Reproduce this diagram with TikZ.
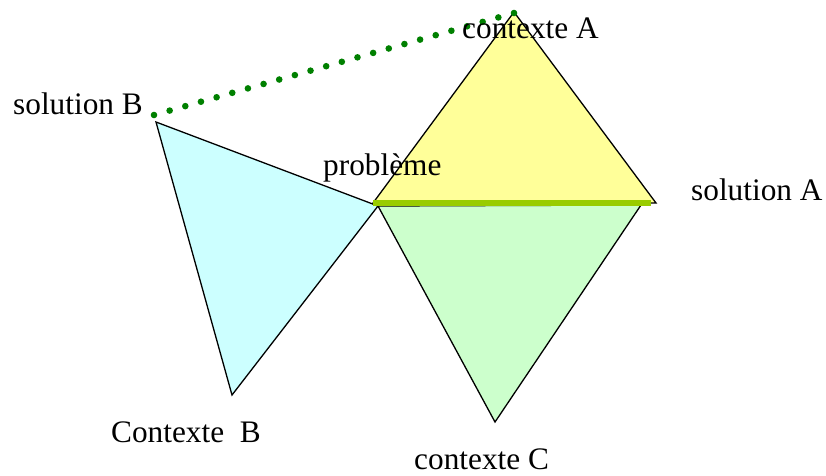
\documentclass[tikz,border=0pt]{standalone}
\usepackage{fontspec}
\setmainfont{Liberation Serif}
\usetikzlibrary{calc}
\begin{document}
\begin{tikzpicture}[x=1pt,y=-1pt,
  lbl/.style={anchor=base west,inner sep=0pt,font=\fontsize{31.3}{35}\selectfont},
  tri/.style={draw=black,line width=1.3pt,line join=miter},
  dotmark/.style={fill=dotgreen}]
\useasboundingbox (0,0) rectangle (826,475);
\definecolor{triyellow}{HTML}{FFFF99}
\definecolor{trigreen}{HTML}{CCFFCC}
\definecolor{tricyan}{HTML}{CCFFFF}
\definecolor{barline}{HTML}{99CC00}
\definecolor{dotgreen}{HTML}{008000}
% vertices
\coordinate (sB) at (156,122);
\coordinate (pb) at (378,206);
\coordinate (cB) at (232,395);
\coordinate (cA) at (514,12);
\coordinate (sA) at (656,203);
\coordinate (gR) at (641,205);
\coordinate (cC) at (495,422);
\coordinate (yL) at (373,203);
\coordinate (bR) at (651,203);
\coordinate (dS) at (154,115);
\coordinate (dE) at (514,13);
% triangles
\filldraw[tri,fill=tricyan] (sB) -- (pb) -- (cB) -- cycle;
\filldraw[tri,fill=trigreen] (pb) -- (gR) -- (cC) -- cycle;
\filldraw[tri,fill=triyellow] (cA) -- (sA) -- (yL) -- cycle;
% thick bar
\draw[barline,line width=5.5pt] (yL) -- (bR);
% dotted line
\foreach \i in {0,...,23}
  \fill[dotmark] ($(dS)!\i/23!(dE)$) circle (3.3pt);
% labels
\node[lbl] (tsB) at (13,114) {solution B};
\node[lbl] (tcA) at (462,38) {contexte A};
\node[lbl] (tpb) at (323,175) {problème};
\node[lbl] (tsA) at (691,200) {solution A};
\node[lbl] (tcB) at (111,442) {Contexte~~B};
\node[lbl] (tcC) at (414,469) {contexte C};
\end{tikzpicture}
\end{document}
